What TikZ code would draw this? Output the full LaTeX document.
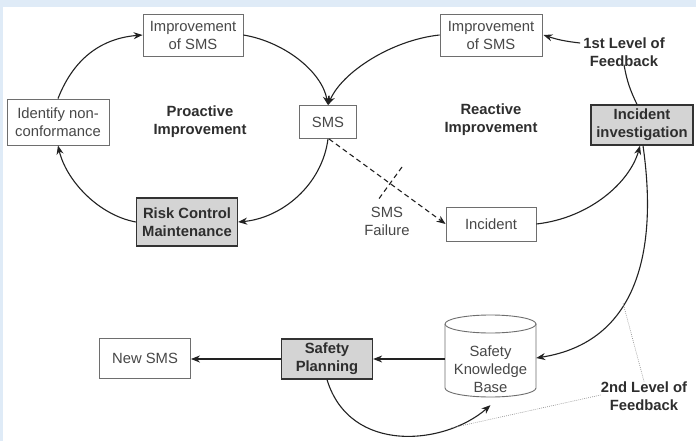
\documentclass[tikz,border=0pt]{standalone}
\usepackage{fontspec}
\setmainfont{Liberation Sans}
\usetikzlibrary{arrows.meta}
\definecolor{bgblue}{HTML}{DFEBF7}
\definecolor{txtgray}{HTML}{474747}
\definecolor{boldtxt}{HTML}{2E2E2E}
\definecolor{boxgray}{HTML}{6E6E6E}
\definecolor{graybox}{HTML}{D4D4D4}
\definecolor{darkline}{HTML}{333333}
\definecolor{linec}{HTML}{222222}
\definecolor{dotc}{HTML}{8A8A8A}
\tikzset{
  base/.style={font=\fontsize{14.8}{18}\selectfont, text=txtgray, align=center, inner sep=0pt},
  wbox/.style={base, draw=boxgray, line width=0.9pt, fill=white},
  gbox/.style={base, draw=darkline, line width=1.3pt, fill=graybox, font=\fontsize{14.8}{18}\selectfont\bfseries, text=boldtxt},
  lbl/.style={base, font=\fontsize{14.8}{18}\selectfont\bfseries, text=boldtxt},
  conn/.style={draw=linec, line width=1.1pt, -{Stealth[length=9pt,width=7pt]}},
  plain/.style={draw=linec, line width=1.1pt},
  dashconn/.style={draw=linec, line width=1.1pt, dashed, dash pattern=on 5pt off 3.5pt},
  dotline/.style={draw=dotc, line width=0.6pt, dash pattern=on 0.8pt off 1.2pt},
}
\begin{document}
\begin{tikzpicture}[x=1pt,y=-1pt]
\useasboundingbox (0,0) rectangle (696,441);
\fill[bgblue] (0,0) rectangle (696,441);
\fill[white] (3,7) rectangle (696,441);

% nodes
\node[wbox, minimum width=100pt, minimum height=42pt] (impL) at (193,35) {Improvement\\of SMS};
\node[wbox, minimum width=102pt, minimum height=46pt] (ident) at (58,122) {Identify non-\\conformance};
\node[wbox, minimum width=57pt, minimum height=33pt] (sms) at (328,122) {SMS};
\node[gbox, minimum width=101pt, minimum height=48pt] (rcm) at (187,222) {Risk Control\\Maintenance};
\node[wbox, minimum width=102pt, minimum height=42pt] (impR) at (491,35) {Improvement\\of SMS};
\node[gbox, minimum width=102pt, minimum height=40pt] (incinv) at (642,125) {Incident\\investigation};
\node[wbox, minimum width=90pt, minimum height=34pt] (incident) at (491,224) {Incident};
\node[wbox, minimum width=91pt, minimum height=40pt] (newsms) at (145,358) {New SMS};
\node[gbox, minimum width=91pt, minimum height=40pt] (splan) at (327,359) {Safety\\Planning};

% cylinder
\node[minimum width=91pt, minimum height=82pt, inner sep=0pt] (kb) at (490.5,356) {};
\draw[draw=boxgray, line width=0.9pt, fill=white] (445,324) -- (445,388) arc[start angle=180, end angle=360, x radius=45.5pt, y radius=9pt] -- (536,324);
\draw[draw=boxgray, line width=0.9pt, fill=white] (490.5,324) ellipse[x radius=45.5pt, y radius=9pt];
\node[base] (kbtext) at (490.5,369) {Safety\\Knowledge\\Base};

% labels
\node[lbl] (proact) at (200,122) {Proactive\\Improvement};
\node[lbl] (react) at (491,120) {Reactive\\Improvement};
\node[lbl] (fb1) at (624,52) {1st Level of\\Feedback};
\node[lbl] (fb2) at (644,396) {2nd Level of\\Feedback};
\node[base] (fail) at (387,221) {SMS\\Failure};

% proactive loop
\draw[conn] (ident.north) .. controls (75,55) and (105,38) .. (impL.west);
\draw[conn] (impL.east) .. controls (285,42) and (322,72) .. (sms.north);
\draw[conn] (sms.south) .. controls (322,185) and (282,218) .. (rcm.east);
\draw[conn] (rcm.west) .. controls (98,215) and (66,180) .. (ident.south);

% reactive loop
\draw[conn] (impR.west) .. controls (392,40) and (342,72) .. (sms.north);
\draw[dashconn, -{Stealth[length=9pt,width=7pt]}] ([xshift=1pt]sms.south) -- (incident.west);
\coordinate (xa) at (402,167);
\coordinate (xb) at (378,200);
\draw[dashconn] (xa) -- (xb);
\draw[conn] (incident.east) .. controls (590,218) and (630,182) .. ([xshift=-2pt]incinv.south);
\draw[plain] ([xshift=-5pt]incinv.north) to[bend left=8] ([yshift=2pt]fb1.south);
\draw[conn] ([xshift=-3pt,yshift=9pt]fb1.west) to[bend left=6] ([xshift=1pt]impR.east);

% second level
\draw[conn] ([xshift=1pt]incinv.south) .. controls (658,250) and (638,342) .. ([yshift=-2pt]kb.east);
\draw[conn] (kb.west |- splan.east) -- (splan.east);
\draw[conn] (splan.west) -- (splan.west -| newsms.east);
\draw[conn] (splan.south) .. controls (350,455) and (445,445) .. ([yshift=-8pt]kb.south);

% dotted pointers
\coordinate (p1) at (623,303);
\coordinate (p2) at (451,428);
\draw[dotline] (fb2.north) -- (p1);
\draw[dotline] ([yshift=1pt]fb2.west) -- (p2);
\end{tikzpicture}
\end{document}
